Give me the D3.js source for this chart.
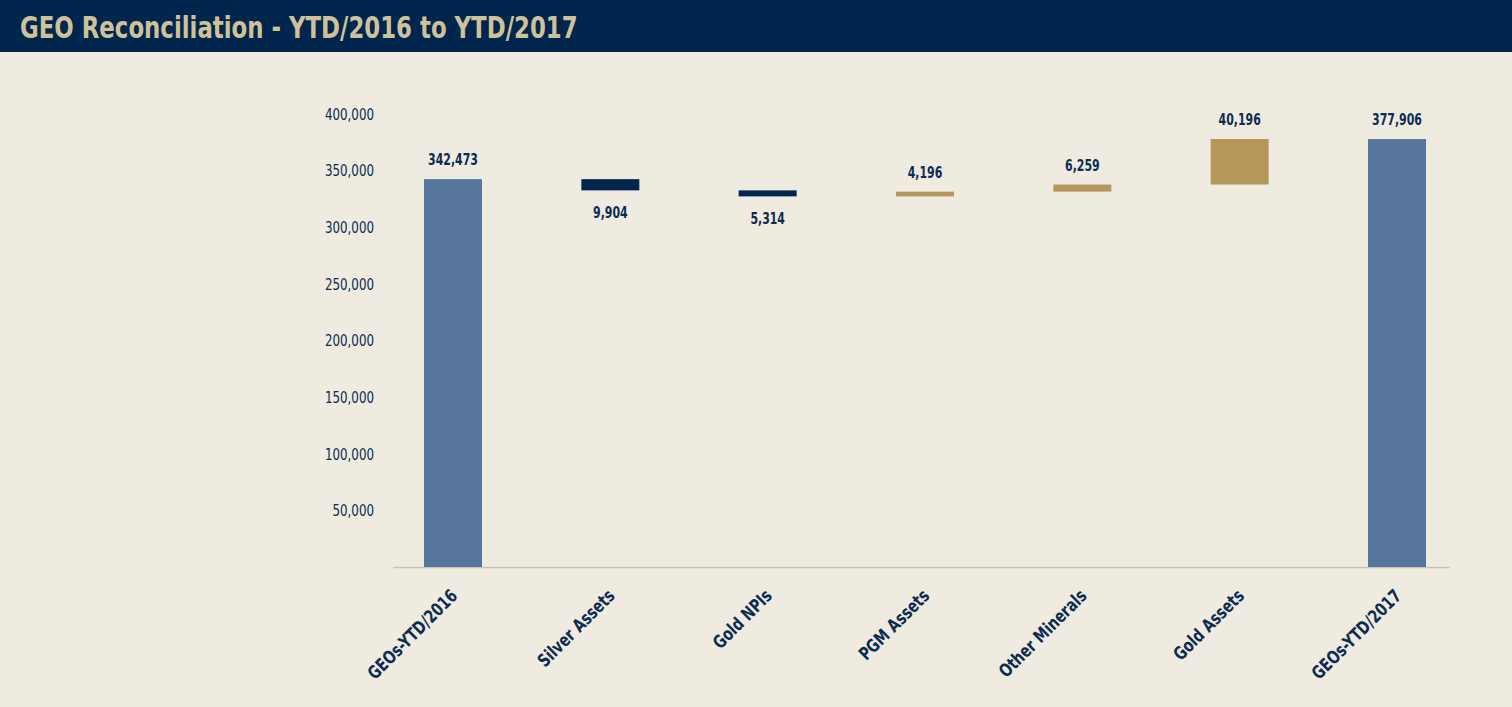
<!DOCTYPE html>
<html><head><meta charset="utf-8">
<script src="https://cdn.jsdelivr.net/npm/d3@7"></script>
<style>
html,body{margin:0;padding:0;background:#efebe1;}
svg{display:block;}
text{font-family:"DejaVu Sans Condensed","Liberation Sans Narrow",sans-serif;}
</style></head>
<body>
<svg id="c" width="1512" height="707"></svg>
<script>
const categories = ["GEOs-YTD/2016","Silver Assets","Gold NPIs","PGM Assets","Other Minerals","Gold Assets","GEOs-YTD/2017"];
const changes = [342473, -9904, -5314, 4196, 6259, 40196, 377906];
const kinds = ["total","delta","delta","delta","delta","delta","total"];
const yTicks = [50000,100000,150000,200000,250000,300000,350000,400000];
const title = "GEO Reconciliation - YTD/2016 to YTD/2017";

const colors = {total:"#56779b", neg:"#00264d", pos:"#b5975b", text:"#0c2c52", bg:"#efebe1", header:"#00264d", title:"#cfc29b", axis:"#c9c4b8"};

// build waterfall
let run = 0;
const data = categories.map((c,i)=>{
  let y0, y1, type;
  if (kinds[i]==="total"){ y0=0; y1=changes[i]; run=changes[i]; type="total"; }
  else { y0=run; y1=run+changes[i]; run=y1; type=changes[i]<0?"neg":"pos"; }
  return {cat:c, v:changes[i], y0, y1, type};
});

const svg = d3.select("#c");
svg.append("rect").attr("x",0).attr("y",0).attr("width",1512).attr("height",707).attr("fill",colors.bg);
svg.append("rect").attr("x",0).attr("y",0).attr("width",1512).attr("height",52).attr("fill",colors.header);
svg.append("text").attr("transform","translate(20,38) scale(0.82,1)").attr("fill",colors.title)
  .attr("font-size",31).attr("font-weight","bold").text(title);

const x = d3.scalePoint().domain(categories).range([453,1397]);
const y = d3.scaleLinear().domain([0,400000]).range([567,114]);
const bw = 58;

// axis line
svg.append("line").attr("x1",393).attr("x2",1450).attr("y1",y(0)+0.5).attr("y2",y(0)+0.5)
  .attr("stroke",colors.axis).attr("stroke-width",1.5);

// y axis labels
const yAxis = d3.axisLeft(y).tickValues(yTicks).tickSize(0).tickPadding(0).tickFormat(d3.format(","));
const gy = svg.append("g").attr("transform","translate(374,0)").call(yAxis);
gy.select(".domain").remove();
gy.selectAll("text").attr("fill",colors.text).attr("font-size",15).attr("font-family",null)
  .attr("x",0).attr("dy","0.35em").attr("transform","scale(0.88,1)");

// bars
svg.selectAll("rect.bar").data(data).join("rect").attr("class","bar")
  .attr("x",d=>x(d.cat)-bw/2).attr("width",bw)
  .attr("y",d=>y(Math.max(d.y0,d.y1)))
  .attr("height",d=>Math.abs(y(d.y0)-y(d.y1)))
  .attr("fill",d=>colors[d.type]);

// value labels
svg.selectAll("text.val").data(data).join("text").attr("class","val")
  .attr("text-anchor","middle")
  .attr("transform",d=>`translate(${x(d.cat)},${d.type==="neg" ? y(Math.min(d.y0,d.y1))+28 : y(Math.max(d.y0,d.y1))-14}) scale(0.76,1)`)
  .attr("fill",colors.text).attr("font-size",16).attr("font-weight","bold")
  .text(d=>d3.format(",")(Math.abs(d.v)));

// x labels
const xAxis = d3.axisBottom(x).tickSize(0).tickPadding(0);
const gx = svg.append("g").attr("transform",`translate(0,${y(0)})`).call(xAxis);
gx.select(".domain").remove();
gx.selectAll("text").attr("font-family",null).attr("fill",colors.text).attr("font-size",18).attr("font-weight","bold")
  .attr("text-anchor","end").attr("dy",null).attr("y",0)
  .attr("transform","translate(5,30) rotate(-45) scale(0.85,1)");
</script>
</body></html>
